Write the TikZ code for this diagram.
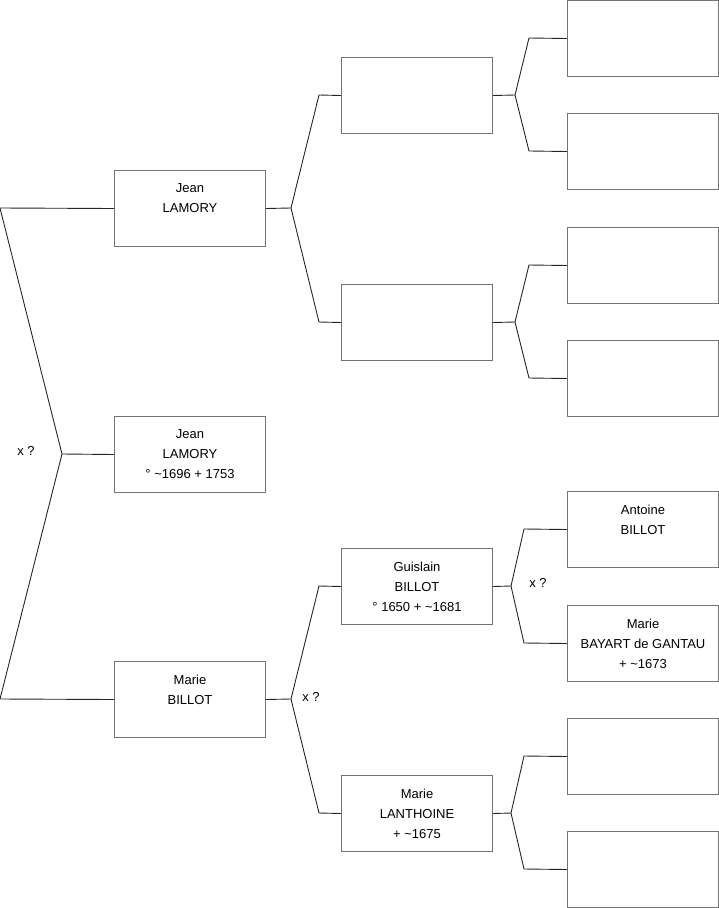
\documentclass[tikz,border=0pt]{standalone}
\usepackage{fontspec}
\setmainfont{Liberation Sans}
\usetikzlibrary{positioning}

\tikzset{
  person/.style={draw=black!55, line width=1pt, minimum width=151pt, minimum height=76pt,
    inner sep=0pt, align=center, anchor=north west, font=\fontsize{13}{20}\selectfont},
  link/.style={line width=0.9pt, black!85},
  union/.style={font=\fontsize{13}{16}\selectfont}
}

\begin{document}
\begin{tikzpicture}[x=1pt, y=-1pt]
    \useasboundingbox (0,0) rectangle (719,908);

    % ================= GENERATION 1 =================
    \node[person] (jeanF)  at (114,170) {Jean\\LAMORY\\~};
    \node[person] (jeanS)  at (114,416) {Jean\\LAMORY\\° \textasciitilde1696 + 1753};
    \node[person] (marieB) at (114,661) {Marie\\BILLOT\\~};

    % ================= GENERATION 2 =================
    \node[person] (jeanFf)   at (341,57)  {};
    \node[person] (jeanFm)   at (341,284) {};
    \node[person] (guislain) at (341,548) {Guislain\\BILLOT\\° 1650 + \textasciitilde1681};
    \node[person] (marieL)   at (341,775) {Marie\\LANTHOINE\\+ \textasciitilde1675};

    % ================= GENERATION 3 =================
    \node[person] (gA) at (567,0)   {};
    \node[person] (gB) at (567,113) {};
    \node[person] (gC) at (567,227) {};
    \node[person] (gD) at (567,340) {};
    \node[person] (antoine) at (567,491) {Antoine\\BILLOT\\~};
    \node[person] (marieG)  at (567,605) {Marie\\BAYART de GANTAU\\+ \textasciitilde1673};
    \node[person] (gG) at (567,718) {};
    \node[person] (gH) at (567,831) {};

    % fork vertices
    \coordinate (v0) at (62,454);
    \coordinate (v1) at (291,208);
    \coordinate (v2) at (291,699);
    \coordinate (v3) at (515,95);
    \coordinate (v4) at (515,322);
    \coordinate (v5) at (511,586);
    \coordinate (v6) at (511,813);

    % Parents of Jean (left fork)
    \draw[link] (jeanS.west) -- (v0);
    \draw[link] (jeanF.west) -- (0,208) -- (v0) -- (0,699) -- (marieB.west);

    % Parents of Jean LAMORY
    \draw[link] (jeanF.east) -- (v1);
    \draw[link] (jeanFf.west) -- (319,95) -- (v1) -- (319,322) -- (jeanFm.west);

    % Parents of Marie BILLOT
    \draw[link] (marieB.east) -- (v2);
    \draw[link] (guislain.west) -- (319,586) -- (v2) -- (319,813) -- (marieL.west);

    % Third generation forks
    \draw[link] (jeanFf.east) -- (v3);
    \draw[link] (gA.west) -- (529,38) -- (v3) -- (529,151) -- (gB.west);
    \draw[link] (jeanFm.east) -- (v4);
    \draw[link] (gC.west) -- (529,265) -- (v4) -- (529,378) -- (gD.west);
    \draw[link] (guislain.east) -- (v5);
    \draw[link] (antoine.west) -- (524,529) -- (v5) -- (524,643) -- (marieG.west);
    \draw[link] (marieL.east) -- (v6);
    \draw[link] (gG.west) -- (524,756) -- (v6) -- (524,869) -- (gH.west);

    % Marriage labels
    \node[union] (u0) at (26,451)  {x ?};
    \node[union] (u1) at (311,697) {x ?};
    \node[union] (u2) at (538,583) {x ?};
\end{tikzpicture}
\end{document}
